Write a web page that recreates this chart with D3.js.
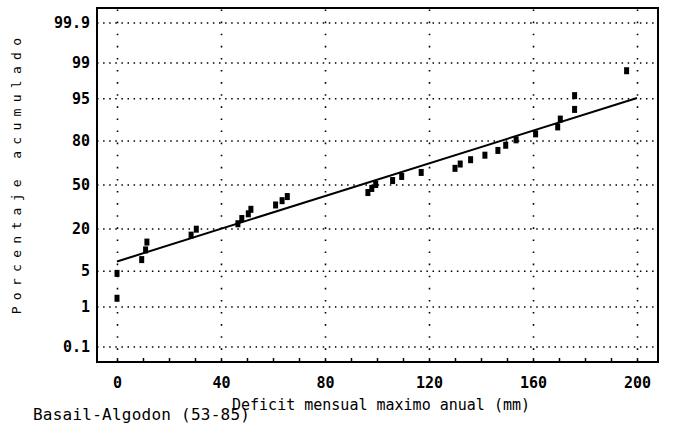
<!DOCTYPE html>
<html><head><meta charset="utf-8">
<script src="https://cdn.jsdelivr.net/npm/d3@7"></script>
<style>
html,body{margin:0;padding:0;background:#fff;}
svg{display:block;}
</style></head>
<body>
<svg id="c" width="674" height="443"></svg>
<script>
// ---- data ----
const deficit = [0, 0, 9.5, 11, 11.5, 28.5, 30.5, 46.5, 48, 50.5, 51.5, 61, 63.5, 65.5, 96.5, 98, 99.5, 106, 109.5, 117, 130, 132, 136, 141.5, 146.5, 149.5, 153.5, 161, 169.5, 170.5, 176, 176, 196];
const percent = [1.5, 4.5, 7.6, 10.6, 13.6, 16.7, 19.7, 22.7, 25.8, 28.8, 31.8, 34.8, 37.9, 40.9, 43.9, 47.0, 50.0, 53.0, 56.1, 59.1, 62.1, 65.2, 68.2, 71.2, 74.2, 77.3, 80.3, 83.3, 86.4, 89.4, 92.4, 95.5, 98.5];
const fitX = [0, 200];
const fitP = [7.1, 95.05];
const xTicks = [0, 40, 80, 120, 160, 200];
const xMinor = d3.range(0, 201, 10);
const yTicks = [0.1, 1, 5, 20, 50, 80, 95, 99, 99.9];
const yTickLabels = ["0.1", "1", "5", "20", "50", "80", "95", "99", "99.9"];
const xTitle = "Deficit mensual maximo anual (mm)";
const yTitle = "Porcentaje acumulado";
const caption = "Basail-Algodon (53-85)";

// inverse normal CDF (Acklam) for the probability axis
function probit(p){
  const a=[-3.969683028665376e+01,2.209460984245205e+02,-2.759285104469687e+02,1.383577518672690e+02,-3.066479806614716e+01,2.506628277459239e+00];
  const b=[-5.447609879822406e+01,1.615858368580409e+02,-1.556989798598866e+02,6.680131188771972e+01,-1.328068155288572e+01];
  const c=[-7.784894002430293e-03,-3.223964580411365e-01,-2.400758277161838e+00,-2.549732539343734e+00,4.374664141464968e+00,2.938163982698783e+00];
  const d=[7.784695709041462e-03,3.224671290700398e-01,2.445134137142996e+00,3.754408661907416e+00];
  const pl=0.02425, ph=1-pl; let q,r;
  if(p<pl){q=Math.sqrt(-2*Math.log(p));return (((((c[0]*q+c[1])*q+c[2])*q+c[3])*q+c[4])*q+c[5])/((((d[0]*q+d[1])*q+d[2])*q+d[3])*q+1);}
  if(p<=ph){q=p-0.5;r=q*q;return (((((a[0]*r+a[1])*r+a[2])*r+a[3])*r+a[4])*r+a[5])*q/(((((b[0]*r+b[1])*r+b[2])*r+b[3])*r+b[4])*r+1);}
  q=Math.sqrt(-2*Math.log(1-p));return -(((((c[0]*q+c[1])*q+c[2])*q+c[3])*q+c[4])*q+c[5])/((((d[0]*q+d[1])*q+d[2])*q+d[3])*q+1);
}

// ---- layout ----
const frame = {left:97, right:658, top:8, bottom:362};
const x = d3.scaleLinear().domain([0,200]).range([117,637]);
const yz = d3.scaleLinear().domain([probit(0.001), probit(0.999)]).range([346.5, 22.5]);
const y = p => yz(probit(p/100));

const svg = d3.select("#c");
const mono = "'DejaVu Sans Mono','Liberation Mono',monospace";

// vertical dotted grid
const gx = svg.append("g").attr("transform",`translate(0,${frame.bottom})`)
  .call(d3.axisBottom(x).tickValues(xTicks).tickSize(-(frame.bottom-frame.top)).tickFormat(""));
gx.select(".domain").remove();
gx.selectAll("line").attr("stroke","#000").attr("stroke-width",1.6).attr("stroke-dasharray","1.6,10.5");

// horizontal dotted grid
const gy = svg.append("g").attr("transform",`translate(${frame.left},0)`)
  .call(d3.axisRight(yz).tickValues(yTicks.map(p=>probit(p/100))).tickSize(frame.right-frame.left).tickFormat(""));
gy.select(".domain").remove();
gy.selectAll("line").attr("stroke","#000").attr("stroke-width",1.5).attr("stroke-dasharray","1.5,4.6");

// minor ticks on bottom
const gm = svg.append("g").attr("transform",`translate(0,${frame.bottom})`)
  .call(d3.axisBottom(x).tickValues(xMinor).tickSize(-4).tickFormat(""));
gm.select(".domain").remove();
gm.selectAll("line").attr("stroke","#000").attr("stroke-width",1.5);

// frame
svg.append("rect").attr("x",frame.left).attr("y",frame.top)
  .attr("width",frame.right-frame.left).attr("height",frame.bottom-frame.top)
  .attr("fill","none").attr("stroke","#000").attr("stroke-width",2);

// x tick labels
const xl = svg.append("g").attr("transform",`translate(0,${frame.bottom})`)
  .call(d3.axisBottom(x).tickValues(xTicks).tickSize(0).tickPadding(15).tickFormat(d3.format("d")));
xl.select(".domain").remove();
xl.selectAll("text").attr("font-family",mono).attr("font-weight","bold").attr("font-size",15).attr("fill","#000");

// y tick labels
const yl = svg.append("g").attr("transform",`translate(${frame.left},0)`)
  .call(d3.axisLeft(yz).tickValues(yTicks.map(p=>probit(p/100))).tickSize(0).tickPadding(7)
    .tickFormat((d,i)=>yTickLabels[i]));
yl.select(".domain").remove();
yl.selectAll("text").attr("font-family",mono).attr("font-weight","bold").attr("font-size",15).attr("fill","#000");

// fitted line
svg.append("path")
  .datum(fitX.map((v,i)=>[v,fitP[i]]))
  .attr("d", d3.line().x(d=>x(d[0])).y(d=>y(d[1])))
  .attr("fill","none").attr("stroke","#000").attr("stroke-width",2);

// points
svg.append("g").selectAll("rect").data(deficit.map((v,i)=>[v,percent[i]])).join("rect")
  .attr("x",d=>x(d[0])-2.5).attr("y",d=>y(d[1])-3.5)
  .attr("width",5).attr("height",7).attr("fill","#000");

// titles
svg.append("text").attr("x",232).attr("y",410).attr("font-family",mono).attr("font-size",15)
  .attr("fill","#000").text(xTitle);
svg.append("text").attr("x",33).attr("y",420).attr("font-family",mono).attr("font-size",16)
  .attr("fill","#000").attr("textLength",217).text(caption);
svg.append("text").attr("transform","translate(21,173) rotate(-90)").attr("text-anchor","middle")
  .attr("font-family",mono).attr("font-size",13).attr("letter-spacing",6.3)
  .attr("fill","#000").text(yTitle);
</script>
</body></html>
